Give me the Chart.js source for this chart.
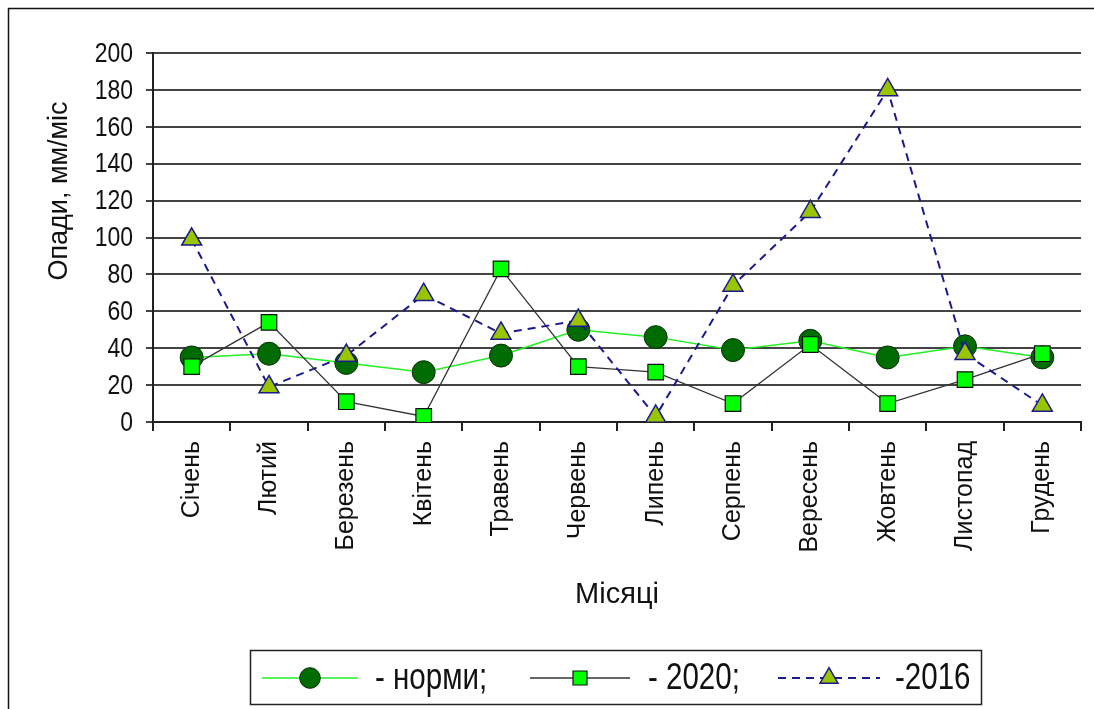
<!DOCTYPE html>
<html lang="uk">
<head>
<meta charset="utf-8">
<title>Опади по місяцях</title>
<script src="https://cdn.jsdelivr.net/npm/chart.js@4"></script>
<style>
  html, body { margin: 0; padding: 0; background: #fff; }
  #wrap { width: 1094px; height: 709px; }
</style>
</head>
<body>
<div id="wrap"><canvas id="rain" width="1094" height="709"></canvas></div>
<script>
// місяці та опади, мм/міс
const months = ['Січень', 'Лютий', 'Березень', 'Квітень', 'Травень', 'Червень',
                'Липень', 'Серпень', 'Вересень', 'Жовтень', 'Листопад', 'Грудень'];
const norms  = [35, 37, 32, 27, 36, 50, 46, 39, 44, 35, 41, 35];
const rain2020 = [30, 54, 11, 3, 83, 30, 27, 10, 42, 10, 23, 37];
const rain2016 = [99, 19, 36, 69, 48, 55, 3, 74, 114, 180, 37, 9];
const yTicks = [0, 20, 40, 60, 80, 100, 120, 140, 160, 180, 200];

const SANS = '"Liberation Sans", Arial, sans-serif';
const NARROW_X = 0.82;   // стиснення шрифту по горизонталі

// рамка, підписи осі Y і назва осі
const frame = {
    id: 'frame',
    beforeDraw(chart) {
        const ctx = chart.ctx;
        ctx.save();
        ctx.fillStyle = '#fff';
        ctx.fillRect(0, 0, chart.width, chart.height);
        ctx.strokeStyle = '#111';
        ctx.lineWidth = 1.5;
        ctx.beginPath();
        ctx.moveTo(8.5, chart.height);
        ctx.lineTo(8.5, 8.5);
        ctx.lineTo(chart.width, 8.5);
        ctx.stroke();
        ctx.restore();
    },
    afterDraw(chart) {
        const ctx = chart.ctx;
        const ys = chart.scales.y;
        ctx.save();
        ctx.fillStyle = '#111';
        ctx.font = '28px ' + SANS;
        ctx.textAlign = 'right';
        ctx.textBaseline = 'middle';
        ys.ticks.forEach(t => {
            ctx.save();
            ctx.translate(ys.right - 20, ys.getPixelForValue(t.value) + 1);
            ctx.scale(NARROW_X, 1);
            ctx.fillText(String(t.value), 0, 0);
            ctx.restore();
        });

        ctx.translate(60, 191);
        ctx.rotate(-Math.PI / 2);
        ctx.font = '27px ' + SANS;
        ctx.textAlign = 'center';
        ctx.fillText('Опади, мм/міс', 0, 0);
        ctx.restore();
    }
};

// легенда: лінія + маркер + підпис
const lineLegend = {
    id: 'lineLegend',
    afterDraw(chart) {
        const ctx = chart.ctx;
        const slots = [
            { x0: 262, x1: 358, tx: 375 },
            { x0: 530, x1: 630, tx: 648 },
            { x0: 778, x1: 880, tx: 895 }
        ];
        const y = 678;
        ctx.save();
        ctx.strokeStyle = '#222';
        ctx.lineWidth = 1.5;
        ctx.strokeRect(250.5, 650.5, 731, 54);
        chart.data.datasets.forEach((ds, i) => {
            const s = slots[i];
            ctx.save();
            ctx.strokeStyle = ds.borderColor;
            ctx.lineWidth = ds.borderWidth;
            ctx.setLineDash(ds.borderDash || []);
            ctx.beginPath();
            ctx.moveTo(s.x0, y);
            ctx.lineTo(s.x1, y);
            ctx.stroke();
            ctx.restore();

            ctx.save();
            ctx.fillStyle = ds.pointBackgroundColor;
            ctx.strokeStyle = ds.pointBorderColor;
            ctx.lineWidth = ds.pointBorderWidth;
            Chart.helpers.drawPoint(ctx, {
                pointStyle: ds.pointStyle,
                radius: ds.pointRadius * 0.9,
                rotation: 0,
                borderWidth: ds.pointBorderWidth
            }, (s.x0 + s.x1) / 2, y);
            ctx.restore();

            ctx.save();
            ctx.translate(s.tx, y + 1);
            ctx.scale(NARROW_X, 1);
            ctx.fillStyle = '#111';
            ctx.font = '36px ' + SANS;
            ctx.textAlign = 'left';
            ctx.textBaseline = 'middle';
            ctx.fillText(ds.label, 0, 0);
            ctx.restore();
        });
        ctx.restore();
    }
};

new Chart(document.getElementById('rain'), {
    type: 'line',
    data: {
        labels: months,
        datasets: [
            {
                label: '- норми;',
                data: norms,
                borderColor: '#22f022',
                borderWidth: 1.5,
                pointStyle: 'circle',
                pointRadius: 11.5,
                pointBackgroundColor: '#006b00',
                pointBorderColor: '#0a300a',
                pointBorderWidth: 1,
                order: 3
            },
            {
                label: '- 2020;',
                data: rain2020,
                borderColor: '#333',
                borderWidth: 1.3,
                pointStyle: 'rect',
                pointRadius: 11,
                pointBackgroundColor: '#00ff00',
                pointBorderColor: '#111',
                pointBorderWidth: 1.2,
                order: 2
            },
            {
                label: '-2016',
                data: rain2016,
                borderColor: '#1a1a8c',
                borderWidth: 2,
                borderDash: [8, 6],
                pointStyle: 'triangle',
                pointRadius: 11.5,
                pointBackgroundColor: '#99c400',
                pointBorderColor: '#1a1a8c',
                pointBorderWidth: 1.5,
                order: 1
            }
        ]
    },
    options: {
        responsive: false,
        animation: false,
        events: [],
        layout: { padding: { top: 53, right: 11, left: 0, bottom: 0 } },
        elements: { line: { tension: 0 } },
        plugins: {
            legend: { display: false },
            tooltip: { enabled: false },
            title: { display: false }
        },
        scales: {
            x: {
                offset: true,
                grid: {
                    offset: true,
                    drawOnChartArea: false,
                    drawTicks: true,
                    tickLength: 9,
                    color: '#222',
                    lineWidth: 2
                },
                border: { display: true, color: '#222', width: 2 },
                ticks: {
                    autoSkip: false,
                    minRotation: 90,
                    maxRotation: 90,
                    padding: 10,
                    color: '#111',
                    font: { family: SANS, size: 25 }
                },
                title: {
                    display: true,
                    text: 'Місяці',
                    color: '#111',
                    font: { family: SANS, size: 29 },
                    padding: { top: 0, bottom: 97 }
                },
                afterFit(scale) { scale.height = 287; }
            },
            y: {
                min: 0,
                max: 200,
                afterBuildTicks(scale) { scale.ticks = yTicks.map(v => ({ value: v })); },
                grid: { color: '#444', lineWidth: 2, tickLength: 7 },
                border: { display: true, color: '#222', width: 2 },
                ticks: { display: false },
                afterFit(scale) { scale.width = 153; }
            }
        }
    },
    plugins: [frame, lineLegend]
});
</script>
</body>
</html>
